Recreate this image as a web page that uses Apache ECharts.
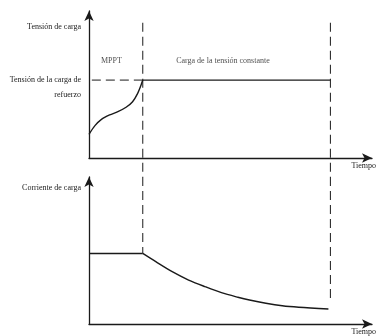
<!DOCTYPE html>
<html>
<head>
<meta charset="utf-8">
<script src="https://cdn.jsdelivr.net/npm/echarts@6/dist/echarts.min.js"></script>
<style>
  html, body { margin: 0; padding: 0; background: #fff; }
  #chart { width: 379px; height: 336px; }
</style>
</head>
<body>
<div id="chart"></div>
<script>
// time marks: end of MPPT stage, end of constant voltage stage
const stageEnds = [19, 85.3]
const timeMax = 100

// voltage (top panel)
const voltageRise = [[0, 16.1], [2.1, 22], [4.4, 26.3], [7.3, 29.3], [10.2, 31.5], [13.1, 34.5], [15.4, 38.3], [17.2, 44], [18.4, 49.7], [19, 53]]
const voltageFlat = [[19, 53], [85.3, 53]]
const boostLevel = [[1, 53], [19, 53]]

// current (bottom panel)
const currentFlat = [[0, 48], [19, 48]]
const currentDecay = [[19, 48], [23.6, 42.4], [29.4, 35.6], [35.2, 29.9], [41, 25.4], [46.8, 21.3], [52.6, 18.2],
    [56.7, 16.3], [62.5, 14.1], [68.3, 12.4], [74.1, 11.4], [84.6, 10.2]]

// texts
const topLabels = { 89: '{a|Tensión de carga}', 53: '{b|Tensión de la carga de}\n{b|refuerzo}' }
const bottomLabels = { 92.5: '{a|Corriente de carga}' }
const stageNames = [[7.9, 66, 'MPPT'], [30.8, 66, 'Carga de la tensión constante']]

const font = 'Liberation Serif'
const black = '#1a1a1a'

function initChart() {
    const chart = echarts.init(document.getElementById('chart'), null, { renderer: 'canvas' })

    const axisLine = {
        show: true,
        symbol: ['none', 'arrow'],
        symbolSize: [7, 10],
        lineStyle: { color: black, width: 1.3 }
    }

    const xAxisFor = (gi) => ({
        type: 'value',
        gridIndex: gi,
        min: 0,
        max: timeMax,
        axisLine: axisLine,
        axisTick: { show: false },
        splitLine: { show: false },
        axisLabel: {
            customValues: [timeMax],
            formatter: () => 'Tiempo',
            align: 'right',
            margin: 4,
            fontFamily: font,
            fontSize: 8,
            color: black,
            padding: [0, -4, 0, 0]
        }
    })

    const yAxisFor = (gi, labels) => ({
        type: 'value',
        gridIndex: gi,
        min: 0,
        max: 100,
        axisLine: axisLine,
        axisTick: { show: false },
        splitLine: { show: false },
        axisLabel: {
            customValues: Object.keys(labels).map(Number),
            formatter: (v) => labels[v] || '',
            margin: 8,
            color: black,
            align: 'right',
            rich: {
                a: { fontFamily: font, fontSize: 8, color: black, lineHeight: 12 },
                b: { fontFamily: font, fontSize: 8, color: black, lineHeight: 15, padding: [15, 0, 0, 0] }
            }
        }
    })

    const solid = (gi, data, smooth) => ({
        type: 'line',
        xAxisIndex: gi,
        yAxisIndex: gi,
        data: data,
        smooth: smooth ? 0.3 : false,
        symbol: 'none',
        lineStyle: { color: black, width: 1.4 }
    })

    const dashed = (gi, data) => ({
        type: 'line',
        xAxisIndex: gi,
        yAxisIndex: gi,
        data: data,
        symbol: 'none',
        clip: false,
        lineStyle: { color: black, width: 1, type: [9, 5] },
        z: 1
    })

    let option = {
        animation: false,
        grid: [
            { left: 89, top: 11, width: 287, height: 147 },
            { left: 89, top: 177, width: 287, height: 147 }
        ],
        xAxis: [xAxisFor(0), xAxisFor(1)],
        yAxis: [yAxisFor(0, topLabels), yAxisFor(1, bottomLabels)],
        series: [
            solid(0, voltageRise, true),
            solid(0, voltageFlat, false),
            dashed(0, boostLevel),
            dashed(0, [[stageEnds[0], 92], [stageEnds[0], -13]]),
            dashed(0, [[stageEnds[1], 92], [stageEnds[1], -13]]),
            dashed(1, [[stageEnds[0], 100], [stageEnds[0], 48]]),
            dashed(1, [[stageEnds[1], 100], [stageEnds[1], 15]]),
            solid(1, currentFlat, false),
            solid(1, currentDecay, true),
            {
                type: 'scatter',
                xAxisIndex: 0,
                yAxisIndex: 0,
                symbolSize: 0,
                data: stageNames.map(d => ({
                    value: [d[0], d[1]],
                    label: { formatter: d[2], align: d[2] === 'MPPT' ? 'center' : 'left' }
                })),
                label: {
                    show: true,
                    position: 'inside',
                    fontFamily: font,
                    fontSize: 8,
                    color: black
                }
            }
        ]
    }

    chart.setOption(option)
    return chart
}

initChart()
</script>
</body>
</html>
